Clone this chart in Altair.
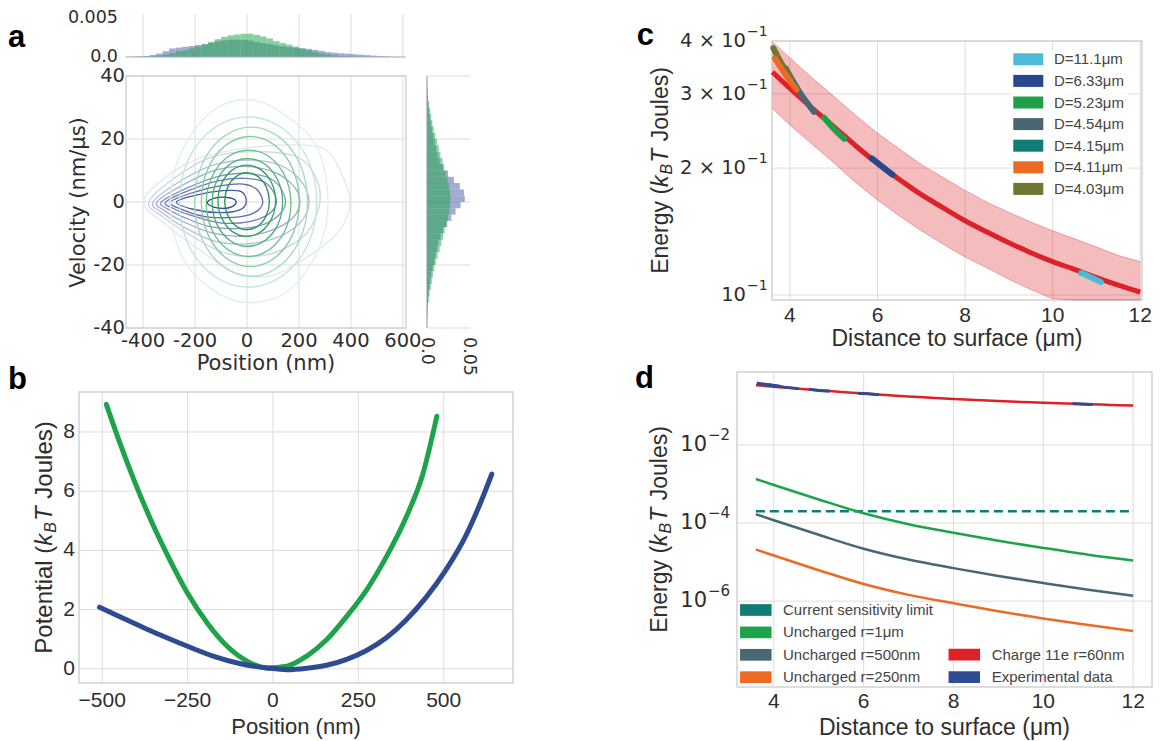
import altair as alt
import pandas as pd

W, H = 1156, 733
SANS = "Liberation Sans"
DJV = "DejaVu Sans"
TXT = "#2e2e2e"
GRID_C = "#dddddd"
FRAME_C = "#d2d2d2"

# ===================== DATA =====================
# (a) marginal histogram of position, density x1e-3, 25 nm bins starting at:
pos_bin_start = list(range(-475, 600, 25))
pos_green_e3 = [0.0, 0.02, 0.04, 0.07, 0.12, 0.2, 0.32, 0.48, 0.75, 0.88, 1.1, 1.35, 1.62, 1.95, 2.3,
                2.6, 2.8, 2.92, 3.0, 3.02, 2.88, 2.65, 2.4, 2.05, 1.8, 1.6, 1.35, 1.1, 0.88, 0.62,
                0.45, 0.32, 0.22, 0.14, 0.09, 0.05, 0.03, 0.01, 0.0, 0.0, 0.0, 0.0, 0.0]
pos_blue_e3 = [0.01, 0.03, 0.06, 0.12, 0.26, 0.45, 0.75, 1.1, 1.22, 1.32, 1.42, 1.55, 1.68, 1.82, 2.02,
               2.15, 2.24, 2.25, 2.23, 2.15, 1.95, 1.8, 1.66, 1.5, 1.38, 1.28, 1.2, 1.12, 1.05, 0.92,
               0.78, 0.62, 0.55, 0.47, 0.42, 0.36, 0.3, 0.24, 0.18, 0.13, 0.08, 0.04, 0.02]
# (a) marginal histogram of velocity, density x1e-3, 2 nm/us bins starting at:
vel_bin_start = list(range(-40, 40, 2))
vel_green_e3 = [0, 0, 0.3, 0.8, 2.0, 3.0, 4.5, 5.8, 7.0, 8.5,
                10.5, 12.5, 15, 17, 19, 21, 23, 25, 26.5, 27.5,
                28, 27.5, 26, 24.5, 22.5, 20.5, 18.5, 16, 14, 12,
                10, 8, 6.5, 5, 3.5, 2.3, 1.3, 0.6, 0.2, 0]
vel_blue_e3 = [0, 0.3, 0.5, 0.8, 1.3, 2, 2.8, 3.8, 5, 6.5,
               8.5, 10, 12, 13.5, 16, 19, 24, 29, 34, 40,
               45, 44, 39, 32, 25, 19, 15, 12.5, 11, 9,
               7.5, 6, 4.5, 3.3, 2.5, 1.6, 1, 0.5, 0.2, 0]

# (a) density contours (position nm, velocity nm/us), outer -> inner
contours_blue = [
    [(-398, 0), (-311, 8), (-182, 13.9), (-15, 17), (152, 18.1), (293, 17), (357, 10.2), (396, 0),
     (357, -8.9), (254, -16.3), (100, -23.2), (-41, -22.6), (-182, -15.2), (-311, -7.3)],
    [(-378, 0), (-272, 8), (-131, 14.4), (49, 16), (203, 13.9), (274, 5.9), (274, -2.5), (216, -11),
     (75, -16.8), (-80, -16.3), (-208, -11), (-324, -4.7)],
    [(-362, 0), (-259, 6.5), (-131, 11.7), (23, 13.3), (152, 10.7), (229, 3.8), (229, -3.6), (152, -9.9),
     (23, -13.1), (-118, -12.6), (-247, -7.8), (-324, -3.6)],
    [(-347, 0), (-247, 5.4), (-118, 10.2), (10, 11.2), (126, 8.6), (197, 2.8), (190, -3.6), (113, -8.4),
     (-3, -10.8), (-131, -9.9), (-247, -6.2), (-311, -3.1)],
    [(-330, 0), (-234, 4.3), (-118, 8), (-3, 9.1), (100, 7), (145, 1.7), (139, -2.5), (75, -6.8),
     (-28, -8.4), (-144, -7.8), (-247, -4.7), (-304, -2.3)],
    [(-313, 0), (-221, 3.8), (-105, 6.8), (-3, 7.5), (75, 5.9), (113, 0.6), (87, -3.6), (10, -6.2),
     (-105, -6.6), (-221, -4.1), (-285, -2)],
    [(-295, 0), (-208, 3), (-105, 5.1), (-15, 5.7), (40, 3.8), (60, -0.4), (23, -3.6), (-54, -4.9),
     (-157, -4.7), (-247, -2.5)],
    [(-272, 0), (-195, 2.2), (-92, 3.6), (-22, 3.3), (-3, 0), (-28, -2.5), (-105, -3.4), (-208, -2.3)],
    [(-153, -0.2), (-125, 1.2), (-80, 1.5), (-48, 0.8), (-44, -0.6), (-73, -1.9), (-125, -1.7)],
]
contours_green = [
    [(312, 0), (272, 17), (158, 27), (10, 32.5), (-140, 28.5), (-258, 15), (-295, -1), (-252, -17),
     (-140, -27.5), (5, -32), (162, -28), (275, -15)],
    [(268, 0), (234, 13.5), (136, 23.4), (4, 27), (-128, 23.4), (-226, 13.5), (-260, 0), (-226, -13.5),
     (-128, -23.4), (4, -27), (136, -23.4), (234, -13.5)],
    [(233, 0), (204, 12), (124, 20.6), (15, 23.8), (-93, 20.6), (-173, 12), (-202, 0), (-173, -11.8),
     (-93, -20.4), (15, -23.6), (124, -20.4), (204, -11.8)],
    [(201, 0), (176, 10.5), (107, 18), (12, 20.8), (-82, 18), (-151, 10.5), (-176, 0), (-151, -10.2),
     (-82, -17.7), (12, -20.5), (107, -17.7), (176, -10.2)],
    [(169, -0.4), (147, 8), (88, 14.2), (6, 16.5), (-76, 14.2), (-135, 8), (-157, -0.4), (-135, -8.9),
     (-76, -15), (6, -17.3), (88, -15), (147, -8.9)],
    [(137, 0), (119, 6.8), (69, 12), (1, 13.8), (-66, 12), (-116, 6.8), (-134, 0), (-116, -7.1),
     (-66, -12.2), (1, -14.1), (69, -12.2), (119, -7.1)],
    [(110, 0.4), (95, 6), (54, 10.2), (-1, 11.7), (-56, 10.2), (-97, 6), (-112, 0.4), (-97, -5.2),
     (-56, -9.4), (-1, -10.9), (54, -9.4), (95, -5.2)],
    [(86, 0), (74, 4.8), (43, 8), (0, 9.3), (-43, 8), (-74, 4.8), (-86, 0), (-74, -4.3),
     (-43, -7.6), (0, -8.8), (43, -7.6), (74, -4.3)],
]
blue_contour_colors = ["#e4e6f2", "#cdd2e8", "#b6bddd", "#9fa8d2", "#8893c6", "#717ebb", "#5b6aaf",
                       "#4556a2", "#2e4393"]
green_contour_colors = ["#daf3e2", "#bfe9cd", "#a0dcb4", "#82cf9c", "#63c283", "#47b46c", "#2fa85a",
                        "#1a9a48"]

# (b) potentials
b_green_x = [-488, -454, -406, -357, -309, -250, -192, -134, -76, -17, 41, 99, 157, 216, 274, 332, 390, 439, 480]
b_green_y = [8.93, 7.81, 6.35, 5.01, 3.84, 2.55, 1.54, 0.76, 0.26, 0.03, 0.09, 0.43, 0.98, 1.77, 2.66, 3.78,
             5.12, 6.58, 8.53]
b_blue_x = [-508, -445, -377, -309, -250, -173, -95, -17, 41, 99, 157, 216, 274, 332, 390, 449, 507, 565, 604, 641]
b_blue_y = [2.08, 1.74, 1.38, 1.04, 0.76, 0.42, 0.17, 0.03, -0.03, 0.02, 0.12, 0.32, 0.62, 1.05, 1.65, 2.42,
            3.35, 4.5, 5.5, 6.58]

# (c) energy vs distance
c_dist = [3.6, 4.0, 4.5, 5.0, 5.5, 6.0, 6.5, 7.0, 7.5, 8.0, 8.5, 9.0, 9.5, 10.0, 10.5, 11.0, 11.5, 12.0]
c_fit = [0.338, 0.309, 0.278, 0.251, 0.226, 0.205, 0.188, 0.173, 0.161, 0.150, 0.141, 0.133, 0.126, 0.120,
         0.115, 0.110, 0.1055, 0.1015]
c_hi = [0.399, 0.365, 0.328, 0.296, 0.267, 0.242, 0.222, 0.204, 0.190, 0.177, 0.166, 0.157, 0.149, 0.142,
        0.136, 0.130, 0.124, 0.120]
c_lo = [0.277, 0.253, 0.228, 0.206, 0.185, 0.168, 0.154, 0.142, 0.132, 0.123, 0.116, 0.109, 0.103, 0.098,
        0.094, 0.090, 0.087, 0.083]
exp_labels = ["D=11.1μm", "D=6.33μm", "D=5.23μm", "D=4.54μm", "D=4.15μm", "D=4.11μm", "D=4.03μm"]
exp_colors = ["#4cbbd9", "#27478e", "#1e9f48", "#4a6672", "#117c76", "#ec6a22", "#6f7733"]
exp_x = {
    "D=11.1μm": [10.65, 10.88, 11.1],
    "D=6.33μm": [5.87, 6.1, 6.34],
    "D=5.23μm": [4.78, 5.0, 5.24],
    "D=4.54μm": [3.9, 4.2, 4.55],
    "D=4.15μm": [3.8, 3.98, 4.15],
    "D=4.03μm": [3.62, 3.8, 4.03],
    "D=4.11μm": [3.66, 3.9, 4.15],
}
exp_y = {
    "D=11.1μm": [0.1127, 0.110, 0.1073],
    "D=6.33μm": [0.211, 0.202, 0.193],
    "D=5.23μm": [0.2636, 0.248, 0.2347],
    "D=4.54μm": [0.345, 0.305, 0.272],
    "D=4.15μm": [0.35, 0.33, 0.31],
    "D=4.03μm": [0.385, 0.355, 0.325],
    "D=4.11μm": [0.364, 0.333, 0.307],
}

# (d) energies
d_dist = [3.6, 4, 5, 6, 7, 8, 9, 10, 11, 12]
d_unch_1um = [1.34e-3, 9.4e-4, 4.0e-4, 1.78e-4, 9.3e-5, 5.6e-5, 3.5e-5, 2.3e-5, 1.55e-5, 1.1e-5]
d_unch_500 = [1.68e-4, 1.18e-4, 5.0e-5, 2.2e-5, 1.16e-5, 7.0e-6, 4.4e-6, 2.9e-6, 1.95e-6, 1.37e-6]
d_unch_250 = [2.1e-5, 1.47e-5, 6.2e-6, 2.75e-6, 1.45e-6, 8.8e-7, 5.5e-7, 3.6e-7, 2.45e-7, 1.72e-7]
d_sens_x = [3.6, 12]
d_sens_y = [2e-4, 2e-4]
d1_labels = ["Current sensitivity limit", "Uncharged r=1μm", "Uncharged r=500nm", "Uncharged r=250nm"]
d1_colors = ["#117c76", "#1ea24a", "#4a6672", "#ec6a22"]
d2_labels = ["Charge 11e r=60nm", "Experimental data"]
d2_colors = ["#dd2127", "#2f4b94"]

# tick values and labels
a_x_ticks = [-400, -200, 0, 200, 400, 600]
a_x_labels = ["-400", "-200", "0", "200", "400", "600"]
a_y_ticks = [-40, -20, 0, 20, 40]
a_y_labels = ["-40", "-20", "0", "20", "40"]
a_top_ticks = [0, 0.005]
a_top_labels = ["0.0", "0.005"]
a_right_ticks = [0, 0.05]
a_right_labels = ["0.0", "0.05"]
b_x_ticks = [-500, -250, 0, 250, 500]
b_x_labels = ["−500", "−250", "0", "250", "500"]
b_y_ticks = [0, 2, 4, 6, 8]
b_y_labels = ["0", "2", "4", "6", "8"]
cd_x_ticks = [4, 6, 8, 10, 12]
cd_x_labels = ["4", "6", "8", "10", "12"]
c_y_ticks = [0.1, 0.2, 0.3, 0.4]
c_y_base = ["10", "2 × 10", "3 × 10", "4 × 10"]
c_y_exp = ["−1", "−1", "−1", "−1"]
d_y_ticks = [1e-2, 1e-4, 1e-6]
d_y_base = ["10", "10", "10"]
d_y_exp = ["−2", "−4", "−6"]

# ===================== LAYOUT (chart pixels) =====================
A_XR = [118, 398]
A_TOP_YR = [49, 6]
A_MAIN_YR = [320, 68]
A_R_XR = [419, 462]
B_XR = [71, 505]
B_YR = [675, 384]
C_XR = [764, 1134]
C_YR = [292, 33]
D_XR = [729, 1144]
D_YR = [679, 364]

one = pd.DataFrame({"k": [0]})


def grid_layers(xs, ys, xdom, ydom, xsc, ysc):
    out = []
    if xs:
        out.append(alt.Chart(pd.DataFrame({"t": xs})).mark_rule(color=GRID_C, strokeWidth=1).encode(
            x=alt.X("t:Q", scale=xsc, axis=None),
            y=alt.Y(datum=ydom[0], scale=ysc, axis=None), y2=alt.Y2(datum=ydom[1])))
    if ys:
        out.append(alt.Chart(pd.DataFrame({"t": ys})).mark_rule(color=GRID_C, strokeWidth=1).encode(
            y=alt.Y("t:Q", scale=ysc, axis=None),
            x=alt.X(datum=xdom[0], scale=xsc, axis=None), x2=alt.X2(datum=xdom[1])))
    return out


def frame(xdom, ydom, xsc, ysc):
    return alt.Chart(one).mark_rect(fillOpacity=0, stroke=FRAME_C, strokeWidth=1.5).encode(
        x=alt.X(datum=xdom[0], scale=xsc, axis=None), x2=alt.X2(datum=xdom[1]),
        y=alt.Y(datum=ydom[0], scale=ysc, axis=None), y2=alt.Y2(datum=ydom[1]))


def xlabels(ticks, labels, sc, ybase, font, size, **kw):
    return alt.Chart(pd.DataFrame({"t": ticks, "lab": labels})).mark_text(
        align=kw.pop("align", "center"), baseline=kw.pop("baseline", "alphabetic"),
        font=font, fontSize=size, color=TXT, **kw).encode(
        x=alt.X("t:Q", scale=sc, axis=None), y=alt.value(ybase), text="lab:N")


def ylabels(ticks, labels, sc, xright, font, size, **kw):
    return alt.Chart(pd.DataFrame({"t": ticks, "lab": labels})).mark_text(
        align=kw.pop("align", "right"), baseline="middle", font=font, fontSize=size, color=TXT, **kw).encode(
        y=alt.Y("t:Q", scale=sc, axis=None), x=alt.value(xright), text="lab:N")


def text_at(t, x, y, size, font=SANS, **kw):
    return alt.Chart(pd.DataFrame({"t": [t]})).mark_text(font=font, fontSize=size, color=TXT, **kw).encode(
        text="t:N", x=alt.value(x), y=alt.value(y))


def energy_title(first, xb, yc, size):
    # rotated title "<first>(k_B T Joules)" assembled from pieces, reading bottom-to-top
    em = {"Energy (": 3.779, "Potential (": 4.502}[first]
    sub = 16
    parts = [
        (first, size, "normal", 0, em * size),
        ("k", size, "italic", 0, 0.5 * size + 1),
        ("B", sub, "italic", 4, 0.667 * sub + 1),
        ("T", size, "italic", 0, 0.611 * size + 0.278 * size + 1),
        ("Joules)", size, "normal", 0, 3.223 * size),
    ]
    total = sum(p[4] for p in parts)
    y = yc + total / 2
    out = []
    for txt, fs, style, shift, w in parts:
        out.append(alt.Chart(pd.DataFrame({"t": [txt]})).mark_text(
            font=SANS, fontSize=fs, fontStyle=style, color=TXT, angle=270, align="left",
            baseline="alphabetic").encode(text="t:N", x=alt.value(xb + shift), y=alt.value(y)))
        y -= w
    return out


# ---------------- panel a : top histogram ----------------
ax_dom = [-466, 612]
ax_sc = alt.Scale(domain=ax_dom, range=A_XR, nice=False, zero=False)
at_dom = [0, 0.00556]
at_sc = alt.Scale(domain=at_dom, range=A_TOP_YR, nice=False, zero=False)

df_pos = pd.DataFrame({
    "x0": pos_bin_start * 2,
    "x1": [s + 25 for s in pos_bin_start] * 2,
    "val": [v * 1e-3 for v in pos_blue_e3] + [v * 1e-3 for v in pos_green_e3],
    "s": ["blue"] * len(pos_bin_start) + ["green"] * len(pos_bin_start),
})
top_hist = alt.layer(
    *grid_layers(a_x_ticks, [], ax_dom, at_dom, ax_sc, at_sc),
    alt.Chart(df_pos[df_pos.s == "blue"]).mark_rect(color="#4658a5", opacity=0.5).encode(
        x=alt.X("x0:Q", scale=ax_sc, axis=None), x2="x1:Q",
        y=alt.Y("val:Q", scale=at_sc, axis=None), y2=alt.Y2(datum=0)),
    alt.Chart(df_pos[df_pos.s == "green"]).mark_rect(color="#28a850", opacity=0.55).encode(
        x=alt.X("x0:Q", scale=ax_sc, axis=None), x2="x1:Q",
        y=alt.Y("val:Q", scale=at_sc, axis=None), y2=alt.Y2(datum=0)),
    alt.Chart(one).mark_rule(color="#a3abcc", strokeWidth=1).encode(
        y=alt.Y(datum=0, scale=at_sc, axis=None),
        x=alt.X(datum=ax_dom[0], scale=ax_sc, axis=None), x2=alt.X2(datum=ax_dom[1])),
    ylabels(a_top_ticks, a_top_labels, at_sc, 110, DJV, 17.5),
)

# ---------------- panel a : main contour plot ----------------
ay_dom = [-40, 40]
ay_sc = alt.Scale(domain=ay_dom, range=A_MAIN_YR, nice=False, zero=False)
rows = []
cids, ccols = [], []
for k, pts in enumerate(contours_blue):
    cid = "b%d" % k
    cids.append(cid)
    ccols.append(blue_contour_colors[k])
    for i, (px, py) in enumerate(pts):
        rows.append({"cid": cid, "i": i, "x": px, "y": py})
for k, pts in enumerate(contours_green):
    cid = "g%d" % k
    cids.append(cid)
    ccols.append(green_contour_colors[k])
    for i, (px, py) in enumerate(pts):
        rows.append({"cid": cid, "i": i, "x": px, "y": py})
df_cont = pd.DataFrame(rows)

main_a = alt.layer(
    *grid_layers(a_x_ticks, a_y_ticks, ax_dom, ay_dom, ax_sc, ay_sc),
    frame(ax_dom, ay_dom, ax_sc, ay_sc),
    alt.Chart(df_cont).mark_line(interpolate="cardinal-closed", strokeWidth=1.3).encode(
        x=alt.X("x:Q", scale=ax_sc, axis=None), y=alt.Y("y:Q", scale=ay_sc, axis=None),
        color=alt.Color("cid:N", scale=alt.Scale(domain=cids, range=ccols), legend=None),
        order=alt.Order("i:Q")),
    xlabels(a_x_ticks, a_x_labels, ax_sc, 339, DJV, 19.5),
    ylabels(a_y_ticks, a_y_labels, ay_sc, 117, DJV, 19.5),
)

# ---------------- panel a : right histogram ----------------
ar_dom = [0, 0.0512]
ar_sc = alt.Scale(domain=ar_dom, range=A_R_XR, nice=False, zero=False)
df_vel = pd.DataFrame({
    "v0": vel_bin_start * 2,
    "v1": [s + 2 for s in vel_bin_start] * 2,
    "val": [v * 1e-3 for v in vel_blue_e3] + [v * 1e-3 for v in vel_green_e3],
    "s": ["blue"] * len(vel_bin_start) + ["green"] * len(vel_bin_start),
})
right_hist = alt.layer(
    *grid_layers([], a_y_ticks, ar_dom, ay_dom, ar_sc, ay_sc),
    alt.Chart(df_vel[df_vel.s == "blue"]).mark_rect(color="#4658a5", opacity=0.5).encode(
        y=alt.Y("v0:Q", scale=ay_sc, axis=None), y2="v1:Q",
        x=alt.X("val:Q", scale=ar_sc, axis=None), x2=alt.X2(datum=0)),
    alt.Chart(df_vel[df_vel.s == "green"]).mark_rect(color="#28a850", opacity=0.55).encode(
        y=alt.Y("v0:Q", scale=ay_sc, axis=None), y2="v1:Q",
        x=alt.X("val:Q", scale=ar_sc, axis=None), x2=alt.X2(datum=0)),
    alt.Chart(one).mark_rule(color="#8c95ab", strokeWidth=1).encode(
        x=alt.X(datum=0, scale=ar_sc, axis=None),
        y=alt.Y(datum=-40, scale=ay_sc, axis=None), y2=alt.Y2(datum=40)),
    xlabels(a_right_ticks, a_right_labels, ar_sc, 329, DJV, 17.5, angle=90, align="left",
            baseline="middle"),
)

# ---------------- panel b ----------------
bx_dom = [-568, 703]
by_dom = [-0.48, 9.35]
bx_sc = alt.Scale(domain=bx_dom, range=B_XR, nice=False, zero=False)
by_sc = alt.Scale(domain=by_dom, range=B_YR, nice=False, zero=False)
df_b = pd.DataFrame({
    "x": b_green_x + b_blue_x,
    "y": b_green_y + b_blue_y,
    "c": ["green"] * len(b_green_x) + ["blue"] * len(b_blue_x),
})
panel_b = alt.layer(
    *grid_layers(b_x_ticks, b_y_ticks, bx_dom, by_dom, bx_sc, by_sc),
    frame(bx_dom, by_dom, bx_sc, by_sc),
    alt.Chart(df_b).mark_line(strokeWidth=5, strokeCap="round", interpolate="monotone").encode(
        x=alt.X("x:Q", scale=bx_sc, axis=None), y=alt.Y("y:Q", scale=by_sc, axis=None),
        color=alt.Color("c:N", scale=alt.Scale(domain=["green", "blue"], range=["#1ea24a", "#2e4a92"]),
                        legend=None)),
    xlabels(b_x_ticks, b_x_labels, bx_sc, 699, SANS, 21),
    ylabels(b_y_ticks, b_y_labels, by_sc, 67, SANS, 21),
)

# ---------------- panel c ----------------
cx_dom = [3.59, 12.04]
cy_dom = [0.0973, 0.4005]
cx_sc = alt.Scale(domain=cx_dom, range=C_XR, nice=False, zero=False)
cy_sc = alt.Scale(type="log", domain=cy_dom, range=C_YR, nice=False, clamp=True)
df_c = pd.DataFrame({"d": c_dist, "fit": c_fit, "hi": c_hi, "lo": c_lo})
erows = []
for lab in exp_x:
    for i, (ex, ey) in enumerate(zip(exp_x[lab], exp_y[lab])):
        erows.append({"lab": lab, "i": i, "x": ex, "y": ey})
df_exp = pd.DataFrame(erows)
panel_c = alt.layer(
    *grid_layers(cd_x_ticks, c_y_ticks, cx_dom, cy_dom, cx_sc, cy_sc),
    frame(cx_dom, cy_dom, cx_sc, cy_sc),
    alt.Chart(df_c).mark_area(color="#dd2127", opacity=0.3).encode(
        x=alt.X("d:Q", scale=cx_sc, axis=None), y=alt.Y("lo:Q", scale=cy_sc, axis=None), y2="hi:Q"),
    alt.Chart(df_c).mark_line(color="#dd2127", strokeWidth=1, opacity=0.35).encode(
        x=alt.X("d:Q", scale=cx_sc, axis=None), y=alt.Y("hi:Q", scale=cy_sc, axis=None)),
    alt.Chart(df_c).mark_line(color="#dd2127", strokeWidth=1, opacity=0.35).encode(
        x=alt.X("d:Q", scale=cx_sc, axis=None), y=alt.Y("lo:Q", scale=cy_sc, axis=None)),
    alt.Chart(df_c).mark_line(color="#dd2127", strokeWidth=5, interpolate="monotone").encode(
        x=alt.X("d:Q", scale=cx_sc, axis=None), y=alt.Y("fit:Q", scale=cy_sc, axis=None)),
    alt.Chart(df_exp).mark_line(strokeWidth=6, strokeCap="round", interpolate="monotone").encode(
        x=alt.X("x:Q", scale=cx_sc, axis=None), y=alt.Y("y:Q", scale=cy_sc, axis=None),
        color=alt.Color("lab:N", scale=alt.Scale(domain=exp_labels, range=exp_colors), legend=None),
        order=alt.Order("i:Q")),
    xlabels(cd_x_ticks, cd_x_labels, cx_sc, 313.7, SANS, 21),
    ylabels(c_y_ticks, c_y_base, cy_sc, 738, DJV, 19.5),
    ylabels(c_y_ticks, c_y_exp, cy_sc, 739, DJV, 14, align="left", dy=-9),
)

# legend c (built from marks)
leg_c_sc = alt.Scale(domain=exp_labels, range=[51.3, 51.3 + 6 * 21.6], padding=0)
df_leg_c = pd.DataFrame({"lab": exp_labels})
legend_c = alt.layer(
    alt.Chart(one).mark_rect(color="white", opacity=0.8).encode(
        x=alt.value(1002), x2=alt.value(1120), y=alt.value(42), y2=alt.value(189)),
    alt.Chart(df_leg_c).mark_point(shape="M-2,-0.8L2,-0.8L2,0.8L-2,0.8Z", size=225, filled=True,
                                   opacity=1).encode(
        x=alt.value(1020.3), y=alt.Y("lab:N", scale=leg_c_sc, axis=None),
        color=alt.Color("lab:N", scale=alt.Scale(domain=exp_labels, range=exp_colors), legend=None)),
    alt.Chart(df_leg_c).mark_text(align="left", baseline="middle", font=SANS, fontSize=15,
                                  color="#444444").encode(
        x=alt.value(1046), y=alt.Y("lab:N", scale=leg_c_sc, axis=None), text="lab:N"),
)

# ---------------- panel d ----------------
dx_dom = [3.18, 12.42]
dy_dom = [6.35e-9, 0.733]
dx_sc = alt.Scale(domain=dx_dom, range=D_XR, nice=False, zero=False)
dy_sc = alt.Scale(type="log", domain=dy_dom, range=D_YR, nice=False, clamp=True)
df_d = pd.DataFrame({
    "x": d_dist * 3,
    "y": d_unch_1um + d_unch_500 + d_unch_250,
    "s": [d1_labels[1]] * 10 + [d1_labels[2]] * 10 + [d1_labels[3]] * 10,
})
df_sens = pd.DataFrame({"x": d_sens_x, "y": d_sens_y})
df_fit = pd.DataFrame({"x": c_dist, "y": c_fit})
panel_d = alt.layer(
    *grid_layers(cd_x_ticks, d_y_ticks, dx_dom, dy_dom, dx_sc, dy_sc),
    frame(dx_dom, dy_dom, dx_sc, dy_sc),
    alt.Chart(df_sens).mark_line(color=d1_colors[0], strokeWidth=2.5, strokeDash=[9, 5]).encode(
        x=alt.X("x:Q", scale=dx_sc, axis=None), y=alt.Y("y:Q", scale=dy_sc, axis=None)),
    alt.Chart(df_d).mark_line(strokeWidth=2.5, interpolate="monotone").encode(
        x=alt.X("x:Q", scale=dx_sc, axis=None), y=alt.Y("y:Q", scale=dy_sc, axis=None),
        color=alt.Color("s:N", scale=alt.Scale(domain=d1_labels, range=d1_colors), legend=None)),
    alt.Chart(df_fit).mark_line(color=d2_colors[0], strokeWidth=2.5, interpolate="monotone").encode(
        x=alt.X("x:Q", scale=dx_sc, axis=None), y=alt.Y("y:Q", scale=dy_sc, axis=None)),
    alt.Chart(df_exp).mark_line(color=d2_colors[1], strokeWidth=3, interpolate="monotone").encode(
        x=alt.X("x:Q", scale=dx_sc, axis=None), y=alt.Y("y:Q", scale=dy_sc, axis=None),
        detail="lab:N", order=alt.Order("i:Q")),
    xlabels(cd_x_ticks, cd_x_labels, dx_sc, 700, SANS, 21),
    ylabels(d_y_ticks, d_y_base, dy_sc, 699, DJV, 21),
    ylabels(d_y_ticks, d_y_exp, dy_sc, 700, DJV, 15, align="left", dy=-10),
)

# legends d (built from marks)
leg_d1_sc = alt.Scale(domain=d1_labels, range=[602, 602 + 3 * 22.4], padding=0)
leg_d2_sc = alt.Scale(domain=d2_labels, range=[646.7, 646.7 + 22.4], padding=0)
BAR = "M-2.1,-0.78L2.1,-0.78L2.1,0.78L-2.1,0.78Z"
legend_d1 = alt.layer(
    alt.Chart(pd.DataFrame({"lab": d1_labels})).mark_point(shape=BAR, size=225, filled=True, opacity=1).encode(
        x=alt.value(747.8), y=alt.Y("lab:N", scale=leg_d1_sc, axis=None),
        color=alt.Color("lab:N", scale=alt.Scale(domain=d1_labels, range=d1_colors), legend=None)),
    alt.Chart(pd.DataFrame({"lab": d1_labels})).mark_text(align="left", baseline="middle", font=SANS,
                                                          fontSize=15, color="#444444").encode(
        x=alt.value(775), y=alt.Y("lab:N", scale=leg_d1_sc, axis=None), text="lab:N"),
)
legend_d2 = alt.layer(
    alt.Chart(pd.DataFrame({"lab": d2_labels})).mark_point(shape=BAR, size=225, filled=True, opacity=1).encode(
        x=alt.value(956.3), y=alt.Y("lab:N", scale=leg_d2_sc, axis=None),
        color=alt.Color("lab:N", scale=alt.Scale(domain=d2_labels, range=d2_colors), legend=None)),
    alt.Chart(pd.DataFrame({"lab": d2_labels})).mark_text(align="left", baseline="middle", font=SANS,
                                                          fontSize=15, color="#444444").encode(
        x=alt.value(983.7), y=alt.Y("lab:N", scale=leg_d2_sc, axis=None), text="lab:N"),
)

# ---------------- axis titles & panel letters ----------------
titles = [
    text_at("Position (nm)", 258, 362, 21, font=DJV, align="center", baseline="alphabetic"),
    text_at("Velocity (nm/μs)", 77, 194.5, 21, font=DJV, align="center", baseline="alphabetic", angle=270),
    text_at("Position (nm)", 288, 725.5, 22, align="center", baseline="alphabetic"),
    text_at("Distance to surface (μm)", 949, 337.5, 23, align="center", baseline="alphabetic"),
    text_at("Distance to surface (μm)", 936.5, 726.5, 23, align="center", baseline="alphabetic"),
]
titles += energy_title("Potential (", 44, 529.5, 24)
titles += energy_title("Energy (", 660, 162.5, 23)
titles += energy_title("Energy (", 659, 521.5, 23)


def letter(t, x, y):
    return alt.Chart(pd.DataFrame({"t": [t]})).mark_text(
        align="left", baseline="alphabetic", font=SANS, fontSize=31, fontWeight="bold", color="black"
    ).encode(text="t:N", x=alt.value(x), y=alt.value(y))


chart = alt.layer(
    top_hist, main_a, right_hist, panel_b, panel_c, legend_c, panel_d, legend_d1, legend_d2,
    *titles,
    letter("a", 0, 38.7), letter("b", 0, 381.3), letter("c", 628.7, 37), letter("d", 627, 380.3),
).resolve_scale(
    x="independent", y="independent", color="independent"
).properties(
    width=W, height=H, padding=0, autosize=alt.AutoSizeParams(type="none")
).configure_view(stroke=None)

chart.save("out.html", embed_options={"renderer": "svg", "actions": False})
